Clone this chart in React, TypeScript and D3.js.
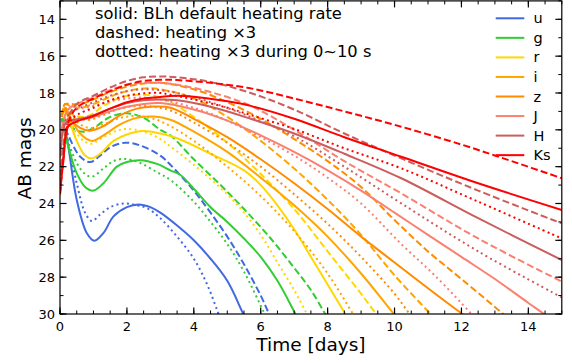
import React from "react";
import * as d3 from "d3";

type P = [number, number];

// ---- data (time [days], AB mag) ----
const bands = ["u", "g", "r", "i", "z", "J", "H", "Ks"];
const colors = ["#4169e1", "#32cd32", "#ffd700", "#ffa500", "#ff8c00", "#fa8072", "#cd5c5c", "#ff0000"];
const annotation = ["solid: BLh default heating rate", "dashed: heating \u00d73", "dotted: heating \u00d73 during 0~10 s"];
const xTicks = [0, 2, 4, 6, 8, 10, 12, 14];
const yTicks = [14, 16, 18, 20, 22, 24, 26, 28, 30];

const uSolid: P[] = [[0.05,19.4],[0.2,20.4],[0.5,23.8],[0.8,25.6],[1.03,26.02],[1.3,25.6],[1.6,24.7],[2.0,24.2],[2.35,24.05],[2.7,24.2],[3.0,24.5],[3.5,25.2],[4.0,26.0],[4.5,27.0],[5.0,28.2],[5.48,30],[5.8,31.2]];
const uDashed: P[] = [[0.05,19.4],[0.25,20.3],[0.6,21.45],[0.9,21.75],[1.2,21.4],[1.5,20.95],[1.95,20.7],[2.4,20.85],[3.0,21.4],[3.3,21.9],[4.0,23.3],[4.5,24.5],[5.0,25.8],[5.5,27.3],[6.0,29.0],[6.25,30],[6.5,31]];
const uDotted: P[] = [[0.05,19.4],[0.2,20.3],[0.5,22.9],[0.75,24.5],[0.95,24.95],[1.2,24.6],[1.5,24.2],[1.9,24.0],[2.3,24.1],[2.6,24.25],[3.0,24.8],[3.5,25.8],[4.0,27.0],[4.4,28.4],[4.74,30],[5.0,31.2]];

const gSolid: P[] = [[0.05,19.4],[0.2,20.6],[0.5,22.35],[0.75,23.1],[1.0,23.3],[1.3,22.9],[1.7,22.0],[2.0,21.75],[2.4,21.65],[2.9,21.85],[3.3,22.2],[3.6,22.45],[4.0,23.2],[4.5,24.2],[5.0,25.0],[5.5,25.9],[6.0,26.9],[6.5,28.2],[7.04,30],[7.3,30.9]];
const gDashed: P[] = [[0.05,19.4],[0.2,19.6],[0.45,20.0],[0.7,20.1],[1.0,19.9],[1.5,19.3],[2.0,19.1],[2.5,19.35],[3.0,20.0],[3.3,20.3],[4.0,21.6],[4.8,23.0],[5.5,24.3],[6.3,25.9],[7.0,27.5],[7.5,28.7],[7.93,30],[8.2,30.8]];
const gDotted: P[] = [[0.05,19.4],[0.2,20.4],[0.5,21.8],[0.75,22.4],[0.95,22.55],[1.3,22.1],[1.6,21.7],[1.95,21.58],[2.4,21.8],[2.9,22.3],[3.3,22.72],[4.0,23.9],[4.5,25.0],[5.0,26.2],[5.5,27.7],[6.12,30],[6.4,31]];

const rSolid: P[] = [[0.05,19.2],[0.15,19.0],[0.3,19.6],[0.5,20.6],[0.75,21.4],[0.95,21.55],[1.2,21.3],[1.6,20.6],[2.0,20.25],[2.5,20.07],[3.0,20.2],[3.5,20.46],[4.5,21.3],[5.5,22.2],[6.0,23.0],[6.5,24.1],[7.0,25.4],[7.5,26.9],[8.0,28.4],[8.53,30],[8.8,30.8]];
const rDashed: P[] = [[0.05,19.2],[0.15,18.9],[0.3,19.1],[0.6,19.3],[0.9,19.2],[1.3,18.7],[1.8,18.25],[2.3,18.1],[2.8,18.15],[3.3,18.5],[4.0,19.3],[5.0,20.7],[6.0,22.4],[7.0,24.3],[8.0,26.6],[9.0,28.9],[9.45,30],[9.7,30.6]];
const rDotted: P[] = [[0.05,19.2],[0.15,19.0],[0.3,19.5],[0.5,20.2],[0.75,20.65],[0.95,20.75],[1.3,20.4],[1.7,20.05],[2.0,19.95],[2.5,20.1],[3.0,20.5],[3.3,20.9],[4.0,21.9],[5.0,23.5],[5.5,24.5],[6.0,25.7],[6.5,27.2],[7.0,28.7],[7.38,30],[7.6,30.75]];

const iSolid: P[] = [[0.05,19.2],[0.15,18.8],[0.3,19.3],[0.6,20.2],[0.95,20.6],[1.3,20.3],[1.8,19.7],[2.3,19.35],[2.8,19.28],[3.3,19.45],[4.0,20.1],[5.0,21.2],[6.0,22.6],[7.0,24.1],[8.0,25.8],[9.0,27.8],[9.98,30],[10.3,30.7]];
const iDashed: P[] = [[0.05,19.2],[0.15,18.6],[0.3,18.7],[0.6,18.8],[1.0,18.6],[1.5,18.2],[2.0,17.9],[2.5,17.75],[3.0,17.8],[4.0,18.3],[5.0,19.3],[6.0,20.6],[7.0,22.1],[8.0,23.8],[9.0,25.7],[10.0,27.9],[11.08,30],[11.4,30.6]];
const iDotted: P[] = [[0.05,19.2],[0.15,18.8],[0.3,19.1],[0.6,19.7],[0.9,19.9],[1.3,19.7],[1.8,19.35],[2.3,19.25],[2.8,19.4],[3.3,19.8],[4.0,20.6],[5.0,22.0],[6.0,23.6],[7.0,25.5],[8.0,27.8],[8.76,30],[9.0,30.7]];

const zSolid: P[] = [[0.05,19.3],[0.15,18.9],[0.3,19.4],[0.6,19.9],[0.9,20.05],[1.3,19.8],[1.8,19.2],[2.3,18.85],[2.8,18.74],[3.3,18.8],[4.0,19.4],[5.0,20.4],[6.0,21.6],[7.0,22.9],[8.0,24.3],[9.0,25.8],[10.0,27.2],[11.0,28.6],[12.03,30],[12.5,30.6]];
const zDashed: P[] = [[0.05,19.3],[0.15,18.6],[0.3,18.6],[0.6,18.6],[1.0,18.35],[1.5,17.95],[2.0,17.65],[2.5,17.48],[3.0,17.45],[4.0,17.8],[5.0,18.5],[6.0,19.4],[7.0,20.5],[8.0,21.7],[9.0,23.1],[10.0,24.9],[11.0,26.6],[12.0,28.1],[13.25,30],[13.6,30.55]];
const zDotted: P[] = [[0.05,19.3],[0.15,18.8],[0.3,19.1],[0.6,19.4],[0.9,19.45],[1.3,19.2],[1.8,18.85],[2.3,18.7],[2.8,18.75],[3.3,18.95],[4.0,19.6],[5.0,20.7],[6.0,22.0],[7.0,23.5],[8.0,25.1],[9.0,26.9],[10.0,28.9],[10.45,30],[10.8,30.8]];

const JSolid: P[] = [[0.0,20.5],[0.15,19.6],[0.3,19.5],[0.6,19.45],[1.0,19.3],[1.5,19.0],[2.0,18.75],[2.5,18.6],[3.0,18.55],[4.0,18.9],[5.0,19.5],[6.0,20.3],[7.0,21.2],[8.0,22.2],[9.0,23.3],[10.0,24.5],[11.0,25.7],[12.0,26.9],[13.0,28.1],[14.0,29.4],[14.47,30],[15,30.7]];
const JDashed: P[] = [[0.0,20.5],[0.15,19.2],[0.3,18.8],[0.5,18.6],[1.0,18.25],[1.5,17.85],[2.0,17.55],[2.5,17.45],[3.0,17.45],[3.5,17.55],[4.5,17.95],[5.7,18.7],[7.0,20.0],[8.5,21.7],[10.2,23.45],[12.5,25.9],[15,28.24]];
const JDotted: P[] = [[0.0,20.5],[0.15,19.3],[0.3,19.0],[0.6,18.85],[1.0,18.7],[1.5,18.45],[2.0,18.3],[2.5,18.25],[3.0,18.35],[4.0,18.8],[5.0,19.5],[6.0,20.4],[7.0,21.4],[8.0,22.6],[9.0,24.0],[10.2,26.2],[11.2,27.9],[12.3,30],[12.8,31]];

const HSolid: P[] = [[0.0,21.5],[0.15,19.7],[0.3,19.5],[0.6,19.4],[1.0,19.2],[1.5,18.85],[2.0,18.55],[2.5,18.4],[3.0,18.35],[3.5,18.4],[4.5,18.75],[5.7,19.4],[7.0,20.2],[8.5,21.3],[10.2,22.63],[12.5,24.8],[15,27.07]];
const HDashed: P[] = [[0.0,22.5],[0.1,20.8],[0.25,19.3],[0.5,18.6],[1.0,18.15],[1.5,17.7],[2.0,17.35],[2.5,17.15],[3.0,17.1],[3.5,17.15],[4.5,17.4],[5.7,18.0],[7.0,18.9],[8.5,20.2],[10.2,21.55],[12.5,23.3],[15,25.08]];
const HDotted: P[] = [[0.0,21.5],[0.15,19.5],[0.3,19.1],[0.6,18.8],[1.0,18.5],[1.5,18.15],[2.0,17.9],[2.5,17.8],[3.0,17.85],[3.5,18.0],[4.5,18.5],[5.7,19.3],[7.0,20.35],[8.5,22.0],[10.2,23.99],[12.5,26.6],[15,29.1]];

const KsSolid: P[] = [[0.0,23.5],[0.1,21.7],[0.25,19.8],[0.5,19.55],[1.0,19.25],[1.5,18.85],[2.0,18.5],[2.5,18.3],[3.0,18.22],[3.3,18.16],[4.0,18.2],[5.0,18.45],[5.7,18.7],[7.0,19.4],[8.5,20.4],[10.2,21.46],[12.5,22.9],[15,24.35]];
const KsDashed: P[] = [[0.0,23.5],[0.1,21.5],[0.25,19.6],[0.5,18.8],[1.0,18.3],[1.5,17.9],[2.0,17.55],[2.5,17.35],[3.0,17.28],[3.5,17.3],[4.5,17.45],[5.7,17.75],[7.0,18.3],[8.5,19.0],[10.2,19.83],[12.0,20.8],[13.5,21.7],[15,22.63]];
const KsDotted: P[] = [[0.0,23.5],[0.1,21.6],[0.25,19.7],[0.5,19.2],[1.0,18.8],[1.5,18.4],[2.0,18.15],[2.5,18.02],[3.0,18.0],[3.3,18.1],[4.0,18.35],[5.0,18.8],[5.7,19.2],[7.0,19.95],[8.5,21.0],[10.2,22.09],[12.5,23.9],[15,25.9]];

const solidSeries = [uSolid, gSolid, rSolid, iSolid, zSolid, JSolid, HSolid, KsSolid];
const dashedSeries = [uDashed, gDashed, rDashed, iDashed, zDashed, JDashed, HDashed, KsDashed];
const dottedSeries = [uDotted, gDotted, rDotted, iDotted, zDotted, JDotted, HDotted, KsDotted];

const W = 572, H = 363;
const left = 60, right = 561.8, top = 0.9, bottom = 314;
const FONT = "DejaVu Sans, Liberation Sans, sans-serif";

export default function App() {
  const x = d3.scaleLinear().domain([0, 15]).range([left, right]);
  const y = d3.scaleLinear().domain([13, 30]).range([top, bottom]);
  const line = d3.line<P>().x(d => x(d[0])).y(d => y(d[1])).curve(d3.curveCatmullRom.alpha(0.5));

  const xMinor = d3.range(0, 15.001, 0.5);
  const yMinor = d3.range(13, 30.001, 1);
  const lw = 2;

  const styles: { series: P[][]; dash: string | undefined }[] = [
    { series: solidSeries, dash: undefined },
    { series: dashedSeries, dash: "7,3.2" },
    { series: dottedSeries, dash: "2,3.3" },
  ];

  return (
    <svg width={W} height={H} style={{ position: "absolute", left: 0, top: 0, background: "#fff" }} fontFamily={FONT}>
      <defs>
        <clipPath id="plotclip">
          <rect x={left} y={top} width={right - left} height={bottom - top} />
        </clipPath>
      </defs>
      <rect x={0} y={0} width={W} height={H} fill="#fff" />
      <g clipPath="url(#plotclip)">
        {bands.map((b, bi) =>
          styles.map((s, si) => (
            <path key={b + si} d={line(s.series[bi]) || ""} fill="none" stroke={colors[bi]}
              strokeWidth={lw} strokeDasharray={s.dash} />
          ))
        )}
      </g>
      {/* frame */}
      <rect x={left} y={top} width={right - left} height={bottom - top} fill="none" stroke="#000" strokeWidth={1.2} />
      {/* x ticks */}
      {xMinor.map(t => (
        <g key={"xm" + t}>
          <line x1={x(t)} x2={x(t)} y1={bottom} y2={bottom - 3.5} stroke="#000" strokeWidth={1} />
          <line x1={x(t)} x2={x(t)} y1={top} y2={top + 3.5} stroke="#000" strokeWidth={1} />
        </g>
      ))}
      {xTicks.map(t => (
        <g key={"x" + t}>
          <line x1={x(t)} x2={x(t)} y1={bottom} y2={bottom - 6.5} stroke="#000" strokeWidth={1.2} />
          <line x1={x(t)} x2={x(t)} y1={top} y2={top + 6.5} stroke="#000" strokeWidth={1.2} />
          <text x={x(t)} y={bottom + 17} textAnchor="middle" fontSize={13} fill="#000">{t}</text>
        </g>
      ))}
      {yMinor.map(v => (
        <g key={"ym" + v}>
          <line x1={left} x2={left + 3.5} y1={y(v)} y2={y(v)} stroke="#000" strokeWidth={1} />
          <line x1={right} x2={right - 3.5} y1={y(v)} y2={y(v)} stroke="#000" strokeWidth={1} />
        </g>
      ))}
      {yTicks.map(v => (
        <g key={"y" + v}>
          <line x1={left} x2={left + 6.5} y1={y(v)} y2={y(v)} stroke="#000" strokeWidth={1.2} />
          <line x1={right} x2={right - 6.5} y1={y(v)} y2={y(v)} stroke="#000" strokeWidth={1.2} />
          <text x={left - 5} y={y(v) + 4.6} textAnchor="end" fontSize={13} fill="#000">{v}</text>
        </g>
      ))}
      {/* axis labels */}
      <text x={(left + right) / 2} y={351} textAnchor="middle" fontSize={18.5} fill="#000">Time [days]</text>
      <text transform={`translate(${31},${(top + bottom) / 2 + 1}) rotate(-90)`} textAnchor="middle" fontSize={18.5} fill="#000">AB mags</text>
      {/* annotation */}
      {annotation.map((s, i) => (
        <text key={s} x={95} y={19 + i * 19.1} fontSize={16.3} fill="#000">{s}</text>
      ))}
      {/* legend */}
      {bands.map((b, i) => (
        <g key={"lg" + b}>
          <line x1={495.7} x2={524.3} y1={18.3 + i * 19.55} y2={18.3 + i * 19.55} stroke={colors[i]} strokeWidth={lw} />
          <text x={533.5} y={18.3 + i * 19.55 + 5} fontSize={14.5} fill="#000">{b}</text>
        </g>
      ))}
    </svg>
  );
}
